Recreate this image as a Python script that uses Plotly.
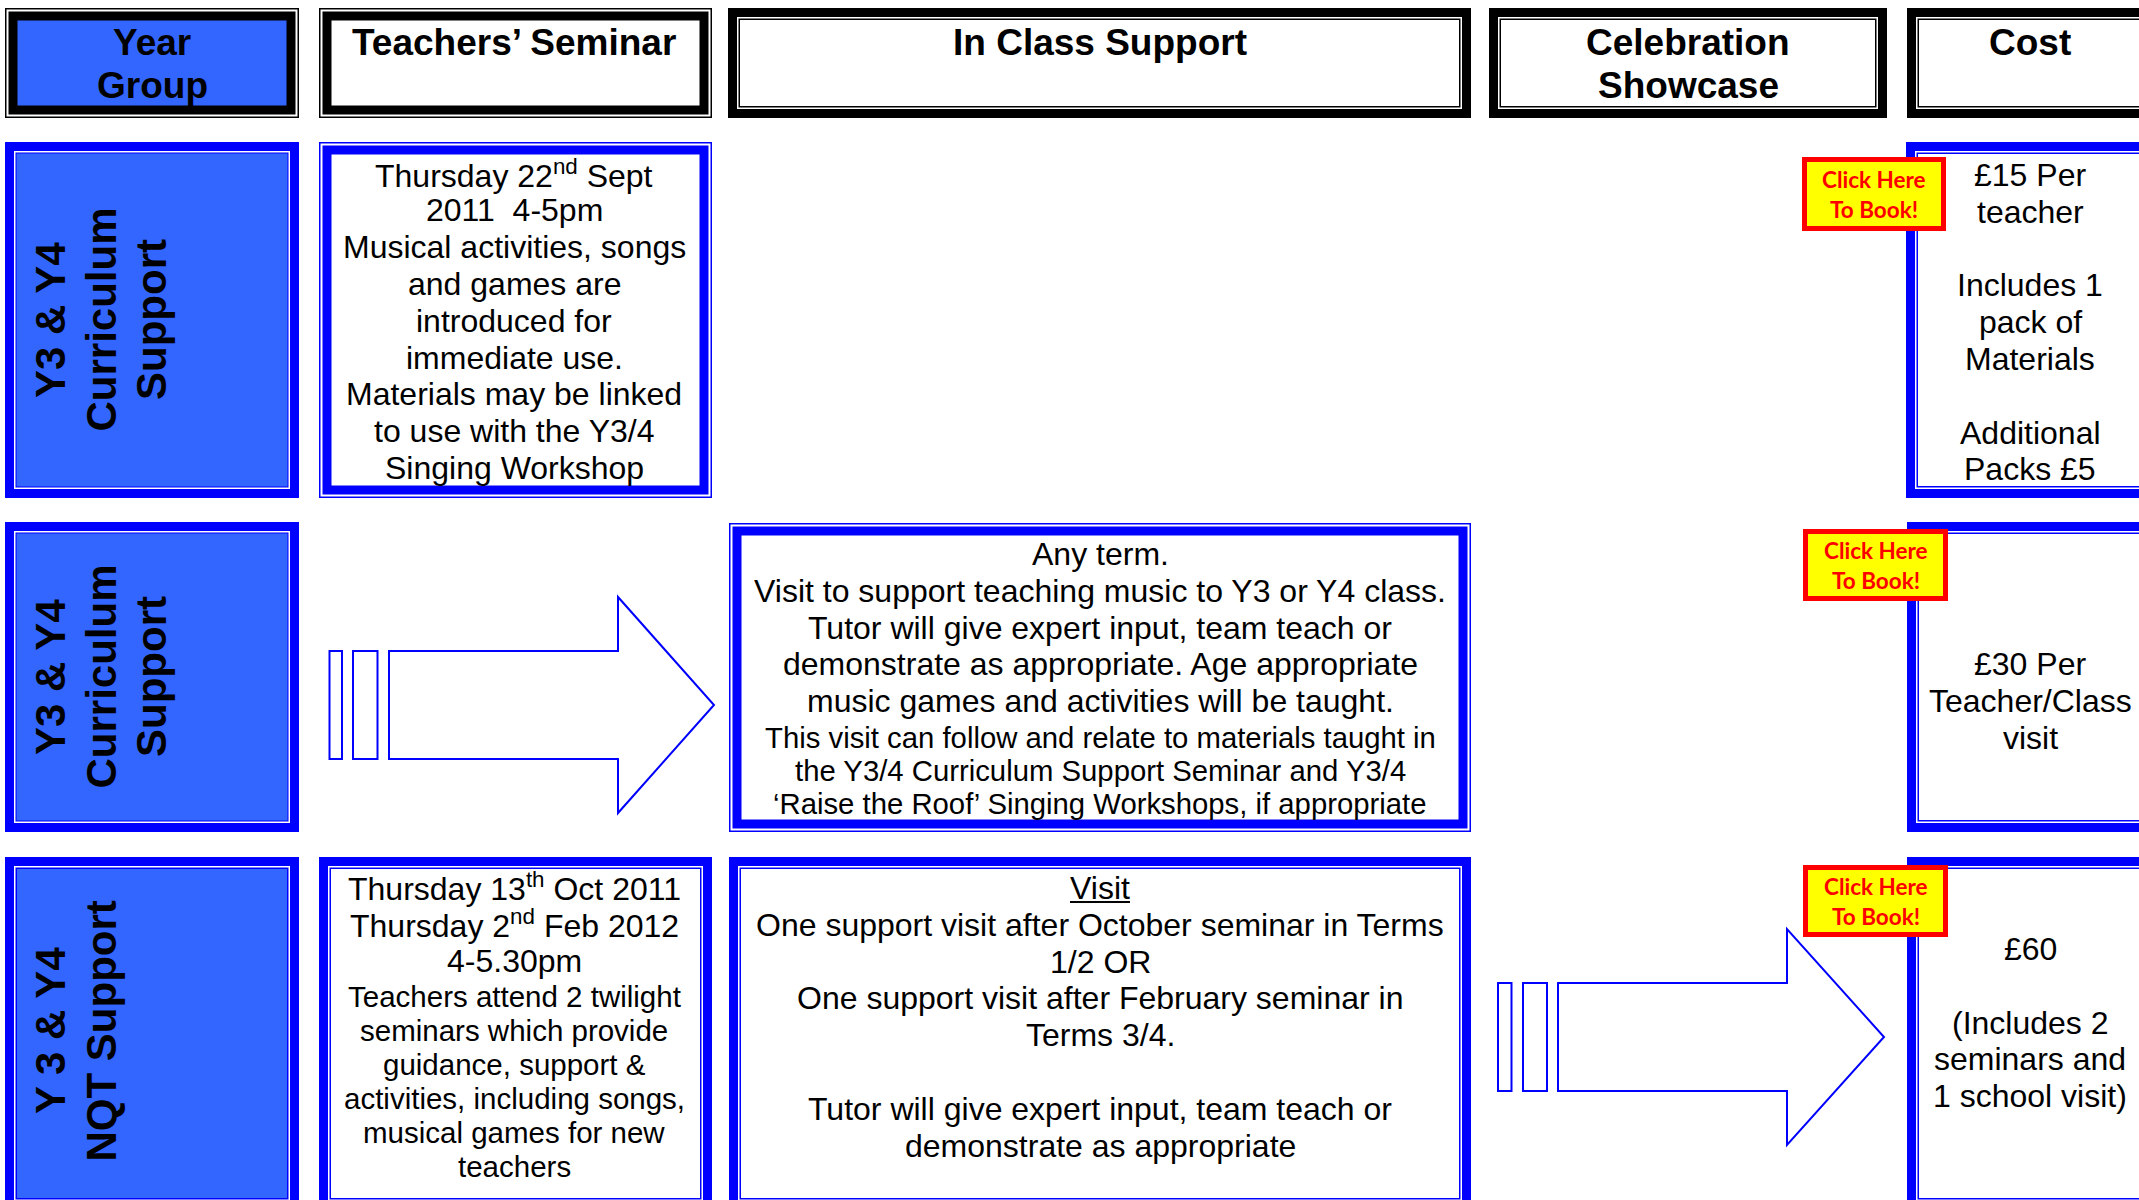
import plotly.graph_objects as go

# ---------------- content (text data) ----------------
header_lines = [["Year", "Group"], ["Teachers’ Seminar"], ["In Class Support"],
                ["Celebration", "Showcase"], ["Cost"]]
row_labels = [["Y3 & Y4", "Curriculum", "Support"],
              ["Y3 & Y4", "Curriculum", "Support"],
              ["Y 3 & Y4", "NQT Support"]]
seminar_row1 = ["Thursday 22<sup>nd</sup> Sept", "2011  4-5pm", "Musical activities, songs",
                "and games are", "introduced for", "immediate use.", "Materials may be linked",
                "to use with the Y3/4", "Singing Workshop"]
inclass_row2_main = ["Any term.", "Visit to support teaching music to Y3 or Y4 class.",
                     "Tutor will give expert input, team teach or",
                     "demonstrate as appropriate. Age appropriate",
                     "music games and activities will be taught."]
inclass_row2_small = ["This visit can follow and relate to materials taught in",
                      "the Y3/4 Curriculum Support Seminar and Y3/4",
                      "‘Raise the Roof’ Singing Workshops, if appropriate"]
seminar_row3_main = ["Thursday 13<sup>th</sup> Oct 2011", "Thursday 2<sup>nd</sup> Feb 2012", "4-5.30pm"]
seminar_row3_small = ["Teachers attend 2 twilight", "seminars which provide", "guidance, support &",
                      "activities, including songs,", "musical games for new", "teachers"]
inclass_row3 = ["Visit", "One support visit after October seminar in Terms", "1/2 OR",
                "One support visit after February seminar in", "Terms 3/4.", "",
                "Tutor will give expert input, team teach or", "demonstrate as appropriate"]
cost_row1 = ["£15 Per", "teacher", "", "Includes 1", "pack of", "Materials", "", "Additional", "Packs £5"]
cost_row2 = ["£30 Per", "Teacher/Class", "visit"]
cost_row3 = ["£60", "", "(Includes 2", "seminars and", "1 school visit)"]
button_lines = ["Click Here", "To Book!"]

# ---------------- layout constants ----------------
W, H = 2139, 1200
BLACK, BLUE, FILLBLUE = "#000000", "#0000FF", "#3366FF"
FONT = "Liberation Sans, Arial, sans-serif"

shapes = []
annotations = []


def rect(x0, y0, x1, y1, color):
    shapes.append(dict(type="rect", xref="x", yref="y", x0=x0, y0=y0, x1=x1, y1=y1,
                       fillcolor=color, line=dict(width=0), layer="above"))


def frame(x0, y0, x1, y1, color, style, fill="white"):
    if style == "thin_thick":
        insets = [(0, color), (1.5, "white"), (3.5, color), (12.5, fill)]
    elif style == "thick_thin":
        insets = [(0, color), (9, "white"), (10.5, color), (12, fill)]
    else:  # thick with white hairline
        insets = [(0, color), (9, "white"), (10.5, color), (11.5, fill)]
    for d, c in insets:
        rect(x0 + d, y0 + d, x1 - d, y1 - d, c)


def text(x, y, s, size=32, bold=False, color="black", angle=0, family=FONT):
    if bold:
        s = "<b>" + s + "</b>"
    annotations.append(dict(x=x, y=y, xref="x", yref="y", text=s, showarrow=False,
                            xanchor="center", yanchor="middle", textangle=angle,
                            font=dict(family=family, size=size, color=color)))


def lines(x, y0, step, items, size=32, **kw):
    for i, s in enumerate(items):
        if s:
            text(x, y0 + i * step, s, size=size, **kw)


def arrow(bx1, bx2, body_x0, head_x, tip_x, by0, by1, hy0, hy1):
    for (a, b) in (bx1, bx2):
        shapes.append(dict(type="rect", xref="x", yref="y", x0=a, x1=b, y0=by0, y1=by1,
                           fillcolor="white", line=dict(color=BLUE, width=2), layer="above"))
    cy = (by0 + by1) / 2
    path = (f"M{body_x0},{by0} L{head_x},{by0} L{head_x},{hy0} L{tip_x},{cy} "
            f"L{head_x},{hy1} L{head_x},{by1} L{body_x0},{by1} Z")
    shapes.append(dict(type="path", xref="x", yref="y", path=path, fillcolor="white",
                       line=dict(color=BLUE, width=2), layer="above"))


def button(x0, y0, x1, y1):
    rect(x0, y0, x1, y1, "#FF0000")
    rect(x0 + 5, y0 + 5, x1 - 5, y1 - 5, "#FFFF00")
    cy = (y0 + y1) / 2
    lines((x0 + x1) / 2, cy - 14.5, 29.5, button_lines, size=22.5, bold=True, color="#FF0000",
          family="Lato, Open Sans, sans-serif")


# columns (x ranges)
COLS = [(5, 299), (319, 712), (728, 1471), (1489, 1887), (1907, 2165)]
COL_CX = [152, 514, 1100, 1688, 2030]

# ---------------- header row ----------------
HY = (8, 118)
frame(COLS[0][0], HY[0], COLS[0][1], HY[1], BLACK, "thin_thick", FILLBLUE)
frame(COLS[1][0], HY[0], COLS[1][1], HY[1], BLACK, "thin_thick")
frame(COLS[2][0], HY[0], COLS[2][1], HY[1], BLACK, "thick_thin")
frame(COLS[3][0], HY[0], COLS[3][1], HY[1], BLACK, "thick_thin")
frame(COLS[4][0], HY[0], COLS[4][1], HY[1], BLACK, "thick_thin")
for i, hl in enumerate(header_lines):
    lines(COL_CX[i], 42, 43, hl, size=37, bold=True)

# ---------------- row 1 ----------------
R1 = (142, 498)
frame(COLS[0][0], R1[0], COLS[0][1], R1[1], BLUE, "thick_white", FILLBLUE)
frame(COLS[1][0], R1[0], COLS[1][1], R1[1], BLUE, "thin_thick")
frame(1906, R1[0], 2165, R1[1], BLUE, "thick_thin")
lines(COL_CX[1], 173.5, 36.8, seminar_row1)
lines(COL_CX[4], 175, 36.8, cost_row1)
for i, s in enumerate(row_labels[0]):
    text(50 + 50.5 * i, 320, s, size=42, bold=True, angle=-90)
button(1802, 157, 1946, 231)

# ---------------- row 2 ----------------
R2 = (522, 832)
frame(COLS[0][0], R2[0], COLS[0][1], R2[1], BLUE, "thick_white", FILLBLUE)
frame(729, 523, 1471, 832, BLUE, "thin_thick")
frame(1907, R2[0], 2165, R2[1], BLUE, "thick_thin")
for i, s in enumerate(row_labels[1]):
    text(50 + 50.5 * i, 677, s, size=42, bold=True, angle=-90)
arrow((329.5, 342), (353, 377.5), 389, 618, 714, 651, 759, 597, 813)
lines(COL_CX[2], 554, 36.8, inclass_row2_main)
lines(COL_CX[2], 737, 33.3, inclass_row2_small, size=29.3)
lines(COL_CX[4], 664, 36.8, cost_row2)
button(1803, 529, 1948, 601)

# ---------------- row 3 ----------------
R3 = (857, 1210)
frame(COLS[0][0], R3[0], COLS[0][1], R3[1], BLUE, "thick_thin", FILLBLUE)
frame(COLS[1][0], R3[0], COLS[1][1], R3[1], BLUE, "thick_thin")
frame(729, R3[0], 1471, R3[1], BLUE, "thick_thin")
frame(1907, R3[0], 2165, R3[1], BLUE, "thick_thin")
for i, s in enumerate(row_labels[2]):
    text(50 + 50.5 * i, 1031, s, size=42, bold=True, angle=-90)
lines(COL_CX[1], 887, 37, seminar_row3_main)
lines(COL_CX[1], 996, 34, seminar_row3_small, size=29.5)
lines(COL_CX[2], 888, 36.8, inclass_row3)
shapes.append(dict(type="line", xref="x", yref="y", x0=1070, x1=1130, y0=902, y1=902,
                   line=dict(color="black", width=2), layer="above"))
lines(COL_CX[4], 949, 36.8, cost_row3)
arrow((1498, 1511.5), (1523, 1547), 1558, 1787, 1884, 983, 1091, 929, 1145)
button(1803, 865, 1948, 937)

fig = go.Figure()
fig.update_layout(
    width=W, height=H, margin=dict(l=0, r=0, t=0, b=0),
    paper_bgcolor="white", plot_bgcolor="white",
    xaxis=dict(range=[0, W], visible=False, fixedrange=True),
    yaxis=dict(range=[H, 0], visible=False, fixedrange=True),
    shapes=shapes, annotations=annotations, showlegend=False,
)
fig.write_html(
    "out.html",
    config={"displayModeBar": False},
    post_script="document.body.style.margin='0';document.documentElement.style.overflow='hidden';document.body.style.overflow='hidden';",
)
